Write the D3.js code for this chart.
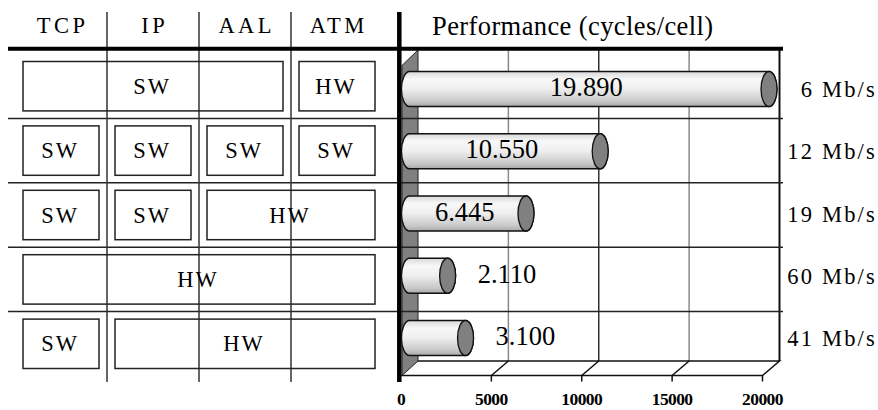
<!DOCTYPE html>
<html>
<head>
<meta charset="utf-8">
<script src="https://cdn.jsdelivr.net/npm/d3@7"></script>
<style>
  html, body { margin: 0; padding: 0; background: #fff; }
  svg { display: block; font-family: "Liberation Serif", "Times New Roman", serif; }
</style>
</head>
<body>
<svg id="chart" width="878" height="410"></svg>
<script>
'use strict';

var layers = ['TCP', 'IP', 'AAL', 'ATM'];
var rates = ['6 Mb/s', '12 Mb/s', '19 Mb/s', '60 Mb/s', '41 Mb/s'];
var cycles = [19890, 10550, 6445, 2110, 3100];
// per row: [first layer, last layer, where it runs]
var splits = [
  [[0, 2, 'SW'], [3, 3, 'HW']],
  [[0, 0, 'SW'], [1, 1, 'SW'], [2, 2, 'SW'], [3, 3, 'SW']],
  [[0, 0, 'SW'], [1, 1, 'SW'], [2, 3, 'HW']],
  [[0, 3, 'HW']],
  [[0, 0, 'SW'], [1, 3, 'HW']]
];
var ticks = [0, 5000, 10000, 15000, 20000];
var title = 'Performance (cycles/cell)';

var svg = d3.select('#chart');
var depth = {x: 17, y: -14.5};
var floorY = 375.5;
var topY = 49;
var barRy = 17.5;
var capRx = 8;

var x = d3.scaleLinear().domain([0, 20000]).range([401, 762.5]);
var col = d3.scaleBand().domain(layers).range([15, 383]);
var row = d3.scaleBand().domain(rates).range([54, 376]);
var barY = d3.scalePoint().domain(rates).range([89, 338]);
var fmt = d3.formatLocale({decimal: ',', thousands: '.', grouping: [3], currency: ['', '']}).format(',');

// gradient for the cylinders
var grad = svg.append('defs').append('linearGradient')
  .attr('id', 'tube')
  .attr('x1', 0).attr('y1', 0).attr('x2', 0).attr('y2', 1);
[[0, '#d8d8d8'], [0.22, '#f8f8f8'], [0.5, '#eeeeee'], [0.85, '#c8c8c8'], [1, '#a8a8a8']]
  .forEach(function(s) {
    grad.append('stop').attr('offset', s[0]).attr('stop-color', s[1]);
  });

// back wall grid
svg.selectAll('line.grid')
  .data(ticks.slice(1))
  .enter().append('line')
  .attr('class', 'grid')
  .attr('x1', function(d) { return x(d) + depth.x; })
  .attr('x2', function(d) { return x(d) + depth.x; })
  .attr('y1', topY)
  .attr('y2', floorY + depth.y)
  .attr('stroke', function(d) { return d === 20000 ? '#111' : (d === 10000 ? '#333' : '#8a8a8a'); })
  .attr('stroke-width', function(d) { return d === 20000 ? 2 : 1.5; });

// floor
var floor = svg.append('g').attr('fill', 'none').attr('stroke', '#111').attr('stroke-width', 1.5);
floor.append('path')
  .attr('d', 'M' + x(0) + ',' + floorY + 'H' + x(20000) +
    'L' + (x(20000) + depth.x) + ',' + (floorY + depth.y) +
    'H' + (x(0) + depth.x));
floor.selectAll('line.diag')
  .data(ticks.slice(1, -1))
  .enter().append('line')
  .attr('x1', function(d) { return x(d); })
  .attr('y1', floorY)
  .attr('x2', function(d) { return x(d) + depth.x; })
  .attr('y2', floorY + depth.y);
floor.selectAll('line.tick')
  .data(ticks.slice(1))
  .enter().append('line')
  .attr('x1', function(d) { return x(d); })
  .attr('x2', function(d) { return x(d); })
  .attr('y1', floorY)
  .attr('y2', floorY + 6);

// grey side wall
svg.append('path')
  .attr('d', 'M' + (x(0) + 1) + ',' + (topY - depth.y + 2) +
    'L' + (x(0) + depth.x) + ',' + (topY + 1) +
    'L' + (x(0) + depth.x) + ',' + (floorY + depth.y) +
    'L' + (x(0) + 1) + ',' + floorY + 'Z')
  .attr('fill', '#808080')
  .attr('stroke', '#222')
  .attr('stroke-width', 1);

// row separators across the whole figure
svg.selectAll('line.row')
  .data(rates.slice(1))
  .enter().append('line')
  .attr('x1', 8)
  .attr('x2', 783)
  .attr('y1', function(d) { return row(d); })
  .attr('y2', function(d) { return row(d); })
  .attr('stroke', '#222')
  .attr('stroke-width', 1.5);

// column separators
svg.selectAll('line.col')
  .data(layers.slice(1))
  .enter().append('line')
  .attr('x1', function(d) { return col(d); })
  .attr('x2', function(d) { return col(d); })
  .attr('y1', 12)
  .attr('y2', 382)
  .attr('stroke', '#333')
  .attr('stroke-width', 1.5);

// thick header rules
svg.append('line')
  .attr('x1', 8).attr('x2', 783).attr('y1', 48.7).attr('y2', 48.7)
  .attr('stroke', '#000').attr('stroke-width', 4);
svg.append('line')
  .attr('x1', 399.3).attr('x2', 399.3).attr('y1', 12).attr('y2', 382)
  .attr('stroke', '#000').attr('stroke-width', 4.5);

// SW / HW boxes
splits.forEach(function(parts, i) {
  var r = rates[i];
  var g = svg.append('g');
  parts.forEach(function(p) {
    var x0 = col(layers[p[0]]) + 8;
    var x1 = col(layers[p[1]]) + col.bandwidth() - 8;
    g.append('rect')
      .attr('x', x0)
      .attr('y', row(r) + 7.5)
      .attr('width', x1 - x0)
      .attr('height', row.bandwidth() - 15)
      .attr('fill', 'none')
      .attr('stroke', '#222')
      .attr('stroke-width', 1.5);
    g.append('text')
      .attr('x', (x0 + x1) / 2 - 1)
      .attr('y', row(r) + row.bandwidth() / 2 + 7.6)
      .attr('text-anchor', 'middle')
      .style('font-size', '22.5px')
      .style('letter-spacing', '2px')
      .text(p[2]);
  });
});

// header labels
svg.selectAll('text.layer')
  .data(layers)
  .enter().append('text')
  .attr('x', function(d) { return col(d) + col.bandwidth() / 2 + 1.75; })
  .attr('y', 33.3)
  .attr('text-anchor', 'middle')
  .style('font-size', '22.5px')
  .style('letter-spacing', '3.5px')
  .text(function(d) { return d; });

svg.append('text')
  .attr('x', 432)
  .attr('y', 34.5)
  .style('font-size', '26.5px')
  .style('letter-spacing', '0.4px')
  .text(title);

// cylinders
var bars = svg.selectAll('g.bar')
  .data(cycles)
  .enter().append('g')
  .attr('class', 'bar');

bars.append('path')
  .attr('d', function(d, i) {
    var cy = barY(rates[i]);
    var x0 = x(0) + depth.x / 2;
    var x1 = x(d) + depth.x / 2;
    var a = ' A' + capRx + ',' + barRy + ' 0 0 1 ';
    return 'M' + x0 + ',' + (cy - barRy) + 'L' + x1 + ',' + (cy - barRy) +
      a + x1 + ',' + (cy + barRy) + 'L' + x0 + ',' + (cy + barRy) +
      a + x0 + ',' + (cy - barRy) + 'Z';
  })
  .attr('fill', 'url(#tube)')
  .attr('stroke', '#111')
  .attr('stroke-width', 1.3);

bars.append('ellipse')
  .attr('cx', function(d) { return x(d) + depth.x / 2; })
  .attr('cy', function(d, i) { return barY(rates[i]); })
  .attr('rx', capRx)
  .attr('ry', barRy)
  .attr('fill', '#808080')
  .attr('stroke', '#111')
  .attr('stroke-width', 1.3);

bars.append('text')
  .attr('x', function(d) {
    var x1 = x(d) + depth.x / 2;
    return d > 5000 ? (x(0) + depth.x / 2 + x1) / 2 - 3 : x1 + capRx + 22;
  })
  .attr('y', function(d, i) { return barY(rates[i]) + 7; })
  .attr('text-anchor', function(d) { return d > 5000 ? 'middle' : 'start'; })
  .style('font-size', '26.5px')
  .text(function(d) { return fmt(d); });

// rate labels
svg.selectAll('text.rate')
  .data(rates)
  .enter().append('text')
  .attr('x', 877)
  .attr('y', function(d) { return barY(d) + 8; })
  .attr('text-anchor', 'end')
  .style('font-size', '22.5px')
  .style('letter-spacing', '2.2px')
  .text(function(d) { return d; });

// axis tick labels
svg.selectAll('text.tick')
  .data(ticks)
  .enter().append('text')
  .attr('x', function(d) { return x(d); })
  .attr('y', 405)
  .attr('text-anchor', 'middle')
  .style('font-size', '17.5px')
  .style('font-weight', 'bold')
  .style('letter-spacing', '-0.6px')
  .text(function(d) { return d; });
</script>
</body>
</html>
